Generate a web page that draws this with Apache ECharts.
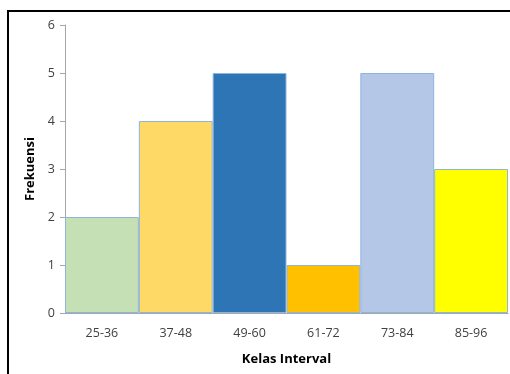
<!DOCTYPE html>
<html>
<head>
<meta charset="utf-8">
<script src="https://cdn.jsdelivr.net/npm/echarts@6/dist/echarts.min.js"></script>
<style>
  html, body { margin: 0; padding: 0; background: #fff; }
  #frame { position: absolute; left: 7px; top: 10px; width: 540px; height: 400px; border: 2px solid #000; box-sizing: border-box; }
  #chart { position: absolute; left: 0; top: 0; width: 510px; height: 374px; }
</style>
</head>
<body>
<div id="frame"></div>
<div id="chart"></div>
<script>
const categories = ['25-36', '37-48', '49-60', '61-72', '73-84', '85-96'];
const values = [2, 4, 5, 1, 5, 3];
const barColors = ['#C5E0B4', '#FFD966', '#2E75B6', '#FFC000', '#B4C7E7', '#FFFF00'];

const chart = echarts.init(document.getElementById('chart'));
const font = 'Open Sans, Noto Sans, sans-serif';
chart.setOption({
  animation: false,
  grid: { left: 65, right: 2, top: 25, bottom: 61 },
  xAxis: {
    type: 'category',
    data: categories,
    name: 'Kelas Interval',
    nameLocation: 'middle',
    nameGap: 40,
    nameTextStyle: { fontFamily: font, fontWeight: 'bold', fontSize: 13, color: '#000' },
    axisLine: { lineStyle: { color: '#A6A6A6' } },
    axisTick: { show: false },
    axisLabel: { fontFamily: font, fontSize: 12.5, color: '#404040', margin: 14 }
  },
  yAxis: {
    type: 'value',
    min: 0, max: 6, interval: 1,
    name: 'Frekuensi',
    nameLocation: 'middle',
    nameGap: 26,
    nameTextStyle: { fontFamily: font, fontWeight: 'bold', fontSize: 13, color: '#000' },
    splitLine: { show: false },
    axisLine: { show: true, lineStyle: { color: '#A6A6A6' } },
    axisTick: { show: true, length: 5, lineStyle: { color: '#A6A6A6' } },
    axisLabel: { fontFamily: font, fontSize: 12.5, color: '#404040', margin: 10 }
  },
  series: [{
    type: 'bar',
    barCategoryGap: '0%',
    data: values.map((v, i) => ({
      value: v,
      itemStyle: { color: barColors[i], borderColor: '#8FB4DE', borderWidth: 1 }
    }))
  }]
});
</script>
</body>
</html>
